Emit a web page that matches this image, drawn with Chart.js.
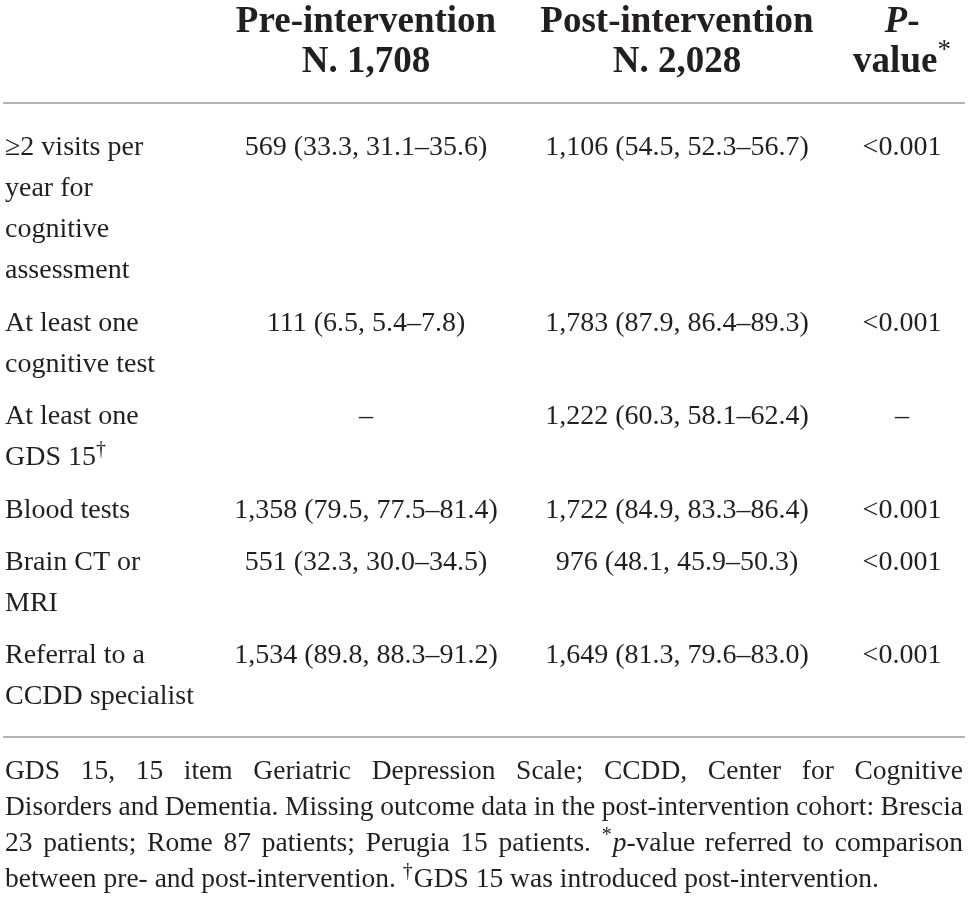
<!DOCTYPE html>
<html>
<head>
<meta charset="utf-8">
<script src="https://cdn.jsdelivr.net/npm/chart.js@4.4.1/dist/chart.umd.min.js"></script>
<style>
  html, body { margin: 0; padding: 0; background: #fff; }
  canvas { display: block; }
</style>
</head>
<body>
<canvas id="tableChart" width="968" height="903"></canvas>
<script>
// table content
// ^x^ = superscript, _x_ = italic
const headers = [
    [],
    ['Pre-intervention', 'N. 1,708'],
    ['Post-intervention', 'N. 2,028'],
    ['_P_-', 'value^*^']
];
const outcomes = [
    ['≥2 visits per', 'year for', 'cognitive', 'assessment'],
    ['At least one', 'cognitive test'],
    ['At least one', 'GDS 15^†^'],
    ['Blood tests'],
    ['Brain CT or', 'MRI'],
    ['Referral to a', 'CCDD specialist']
];
const preN = [569, 111, null, 1358, 551, 1534];
const prePct = [33.3, 6.5, null, 79.5, 32.3, 89.8];
const preLow = [31.1, 5.4, null, 77.5, 30.0, 88.3];
const preHigh = [35.6, 7.8, null, 81.4, 34.5, 91.2];
const postN = [1106, 1783, 1222, 1722, 976, 1649];
const postPct = [54.5, 87.9, 60.3, 84.9, 48.1, 81.3];
const postLow = [52.3, 86.4, 58.1, 83.3, 45.9, 79.6];
const postHigh = [56.7, 89.3, 62.4, 86.4, 50.3, 83.0];
const pValues = ['<0.001', '<0.001', '–', '<0.001', '<0.001', '<0.001'];
const footnote = [
    'GDS 15, 15 item Geriatric Depression Scale; CCDD, Center for Cognitive',
    'Disorders and Dementia. Missing outcome data in the post-intervention cohort: Brescia',
    '23 patients; Rome 87 patients; Perugia 15 patients. ^*^_p_-value referred to comparison',
    'between pre- and post-intervention. ^†^GDS 15 was introduced post-intervention.'
];

// layout (pixels of the 968x903 page)
var colX = [5, 366, 677, 902];
var ruleLeft = 3, ruleRight = 965;
var headerY = [22, 62];
var topRuleY = 103;
var bodyTop = 148, lineH = 41, rowStep = 52.4;
var bottomRuleY = 737;
var noteTop = 772, noteH = 36, noteRight = 963;

var family = "'Liberation Serif', 'Times New Roman', serif";
var ink = '#231f20';

function fmtN(n) { return n.toLocaleString('en-US'); }
function cellFor(n, pct, lo, hi) {
    if (n === null) return '–';
    return fmtN(n) + ' (' + pct.toFixed(1) + ', ' + lo.toFixed(1) + '–' + hi.toFixed(1) + ')';
}

// row positions
var rowY = [];
var y = bodyTop;
outcomes.forEach(function (lines) {
    rowY.push(y);
    y += (lines.length - 1) * lineH + rowStep;
});

var headerCells = [], labelCells = [], preCells = [], postCells = [], pCells = [], noteCells = [];
headers.forEach(function (lines, c) {
    lines.forEach(function (t, k) {
        headerCells.push({ x: colX[c], y: headerY[k], text: t });
    });
});
outcomes.forEach(function (lines, r) {
    lines.forEach(function (t, k) {
        labelCells.push({ x: colX[0], y: rowY[r] + k * lineH, text: t });
    });
    preCells.push({ x: colX[1], y: rowY[r], text: cellFor(preN[r], prePct[r], preLow[r], preHigh[r]) });
    postCells.push({ x: colX[2], y: rowY[r], text: cellFor(postN[r], postPct[r], postLow[r], postHigh[r]) });
    pCells.push({ x: colX[3], y: rowY[r], text: pValues[r] });
});
footnote.forEach(function (t, i) {
    noteCells.push({ x: colX[0], y: noteTop + i * noteH, text: t, justify: i < footnote.length - 1 });
});

// split a string into runs of plain / italic / superscript text
function parseRuns(str) {
    var parts = str.split(/(\^[^^]+\^|_[^_]+_)/);
    var runs = [];
    parts.forEach(function (p) {
        if (!p) return;
        if (p[0] === '^') runs.push({ t: p.slice(1, -1), sup: true });
        else if (p[0] === '_') runs.push({ t: p.slice(1, -1), italic: true });
        else runs.push({ t: p });
    });
    return runs;
}
function runFont(run, f) {
    var size = run.sup ? Math.round(f.size * 0.72) : f.size;
    var weight = run.sup ? 'normal' : (f.weight || 'normal');
    return (run.italic ? 'italic ' : '') + weight + ' ' + size + 'px ' + family;
}
function runsWidth(ctx, runs, f) {
    var w = 0;
    runs.forEach(function (r) { ctx.font = runFont(r, f); w += ctx.measureText(r.t).width; });
    return w;
}
function drawRuns(ctx, runs, x, y, f) {
    runs.forEach(function (r) {
        ctx.font = runFont(r, f);
        ctx.fillText(r.t, x, r.sup ? y - f.size * 0.3 : y);
        x += ctx.measureText(r.t).width + (r.sup ? 1 : 0);
    });
}

var cellText = {
    id: 'cellText',
    afterDatasetsDraw: function (chart) {
        var ctx = chart.ctx;
        ctx.save();
        ctx.fillStyle = ink;
        ctx.textBaseline = 'middle';
        ctx.textAlign = 'left';
        chart.data.datasets.forEach(function (ds, i) {
            if (!ds.cellFont) return;
            var f = ds.cellFont;
            var meta = chart.getDatasetMeta(i);
            meta.data.forEach(function (pt, j) {
                var cell = ds.data[j];
                var x = pt.x, yy = pt.y;
                if (cell.justify) {
                    var right = chart.scales.x.getPixelForValue(noteRight);
                    var words = cell.text.split(' ').map(parseRuns);
                    var total = 0;
                    words.forEach(function (w) { total += runsWidth(ctx, w, f); });
                    var gap = (right - x - total) / (words.length - 1);
                    words.forEach(function (w) {
                        drawRuns(ctx, w, x, yy, f);
                        x += runsWidth(ctx, w, f) + gap;
                    });
                    return;
                }
                var runs = parseRuns(cell.text);
                var w = runsWidth(ctx, runs, f);
                if (ds.cellAlign === 'center') x -= w / 2;
                drawRuns(ctx, runs, x, yy, f);
            });
        });
        ctx.restore();
    }
};

function textSet(cells, font, align) {
    return { type: 'scatter', data: cells, pointRadius: 0, pointHoverRadius: 0, cellFont: font, cellAlign: align };
}
function ruleSet(yv) {
    return {
        type: 'line', data: [{ x: ruleLeft, y: yv }, { x: ruleRight, y: yv }],
        borderColor: '#b4b4b4', borderWidth: 2, pointRadius: 0, fill: false
    };
}

var bodyFont = { size: 28 };
var ctx = document.getElementById('tableChart').getContext('2d');
var tableChart = new Chart(ctx, {
    type: 'scatter',
    data: {
        datasets: [
            ruleSet(topRuleY),
            ruleSet(bottomRuleY),
            textSet(headerCells, { size: 37, weight: 'bold' }, 'center'),
            textSet(labelCells, bodyFont, 'left'),
            textSet(preCells, bodyFont, 'center'),
            textSet(postCells, bodyFont, 'center'),
            textSet(pCells, bodyFont, 'center'),
            textSet(noteCells, { size: 27.5 }, 'left')
        ]
    },
    options: {
        responsive: false,
        animation: false,
        layout: { padding: 0 },
        plugins: { legend: { display: false }, tooltip: { enabled: false }, title: { display: false } },
        scales: {
            x: { type: 'linear', display: false, min: 0, max: 968 },
            y: { type: 'linear', display: false, min: 0, max: 903, reverse: true }
        }
    },
    plugins: [cellText]
});
</script>
</body>
</html>
